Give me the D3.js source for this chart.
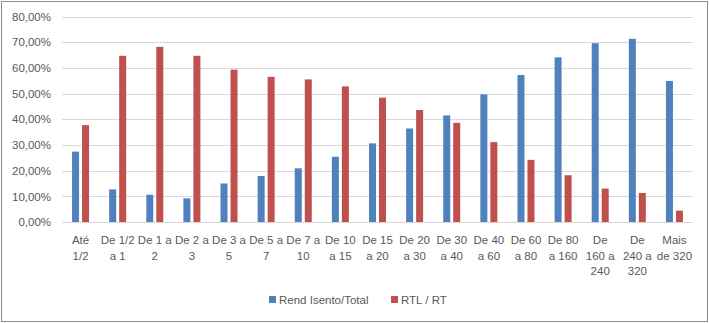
<!DOCTYPE html>
<html>
<head>
<meta charset="utf-8">
<script src="https://cdn.jsdelivr.net/npm/d3@7"></script>
<style>
  html, body { margin: 0; padding: 0; background: #fff; }
  svg { display: block; }
  text { font-family: "Liberation Sans", Arial, sans-serif; fill: #595959; }
</style>
</head>
<body>
<svg id="chart" width="709" height="323"></svg>
<script>
// Income brackets (in minimum wages)
const categories = [
  "Até 1/2", "De 1/2 a 1", "De 1 a 2", "De 2 a 3", "De 3 a 5", "De 5 a 7",
  "De 7 a 10", "De 10 a 15", "De 15 a 20", "De 20 a 30", "De 30 a 40",
  "De 40 a 60", "De 60 a 80", "De 80 a 160", "De 160 a 240", "De 240 a 320",
  "Mais de 320"
];
// Share of exempt income over total income (%)
const rendIsento = [27.4, 12.7, 10.6, 9.2, 15.0, 17.9, 20.9, 25.4, 30.6, 36.4,
  41.5, 49.7, 57.2, 64.1, 69.6, 71.3, 54.9];
// Taxable net income over total income (%)
const rtlRt = [37.7, 64.7, 68.2, 64.7, 59.3, 56.5, 55.5, 52.8, 48.4, 43.6,
  38.6, 31.1, 24.2, 18.2, 13.0, 11.3, 4.4];
const yTicks = [0, 10, 20, 30, 40, 50, 60, 70, 80];
const seriesNames = ["Rend Isento/Total", "RTL / RT"];
const colors = ["#4f81bd", "#c0504d"];

const W = 709, H = 323;
const svg = d3.select("#chart");

// outer chart border
svg.append("rect")
  .attr("x", 1.5).attr("y", 1.5)
  .attr("width", W - 3).attr("height", H - 3)
  .attr("fill", "#fff").attr("stroke", "#8c8c8c").attr("stroke-width", 1);

const plot = { left: 62, right: 693, top: 16.5, bottom: 222 };

const x = d3.scaleBand().domain(categories).range([plot.left, plot.right]);
const y = d3.scaleLinear().domain([0, 80]).range([plot.bottom, plot.top]);

// gridlines
svg.append("g")
  .selectAll("line").data(yTicks).join("line")
  .attr("x1", plot.left).attr("x2", plot.right)
  .attr("y1", d => Math.round(y(d)) + 0.5).attr("y2", d => Math.round(y(d)) + 0.5)
  .attr("stroke", "#d9d9d9").attr("stroke-width", 1);

// y axis labels
const yAxis = d3.axisLeft(y).tickValues(yTicks).tickSize(0).tickPadding(0)
  .tickFormat(d => d.toFixed(2).replace(".", ",") + "%");
const gy = svg.append("g").attr("transform", `translate(${plot.left - 11},0)`).call(yAxis);
gy.select(".domain").remove();
gy.selectAll("text").attr("font-size", 11.5).attr("fill", "#595959")
  .style("font-family", '"Liberation Sans", Arial, sans-serif');

// bars
const barW = 7, gap = 3;
const sub = d3.scaleOrdinal().domain([0, 1]).range([-gap / 2 - barW, gap / 2]);
[rendIsento, rtlRt].forEach((vals, si) => {
  svg.append("g")
    .selectAll("rect").data(vals).join("rect")
    .attr("x", (d, i) => x(categories[i]) + x.bandwidth() / 2 + sub(si))
    .attr("y", d => y(d))
    .attr("width", barW)
    .attr("height", d => y(0) - y(d))
    .attr("fill", colors[si]);
});

// x axis labels, wrapped to the category width
const xAxis = d3.axisBottom(x).tickSize(0).tickPadding(0);
const gx = svg.append("g").attr("transform", `translate(0,${plot.bottom})`).call(xAxis);
gx.select(".domain").remove();
gx.selectAll("text")
  .attr("font-size", 11.5).attr("fill", "#595959")
  .style("font-family", '"Liberation Sans", Arial, sans-serif')
  .each(function (d) {
    const t = d3.select(this);
    const words = d.split(" ");
    const maxW = 35.8;
    t.text(null);
    const lines = [];
    let cur = [];
    const probe = t.append("tspan");
    words.forEach(w => {
      const test = cur.concat([w]).join(" ");
      probe.text(test);
      if (cur.length && probe.node().getComputedTextLength() > maxW) {
        lines.push(cur.join(" "));
        cur = [w];
      } else {
        cur.push(w);
      }
    });
    if (cur.length) lines.push(cur.join(" "));
    probe.remove();
    t.attr("y", 0).attr("dy", null);
    lines.forEach((ln, li) => {
      t.append("tspan").attr("x", 0).attr("y", 22 + li * 15.5).text(ln);
    });
  });

// legend
const legend = svg.append("g");
const legX = [269, 391];
seriesNames.forEach((name, i) => {
  legend.append("rect")
    .attr("x", legX[i]).attr("y", 296).attr("width", 7).attr("height", 7)
    .attr("fill", colors[i]);
  legend.append("text")
    .attr("x", legX[i] + 10).attr("y", 304)
    .attr("font-size", 11.5).text(name);
});
</script>
</body>
</html>
